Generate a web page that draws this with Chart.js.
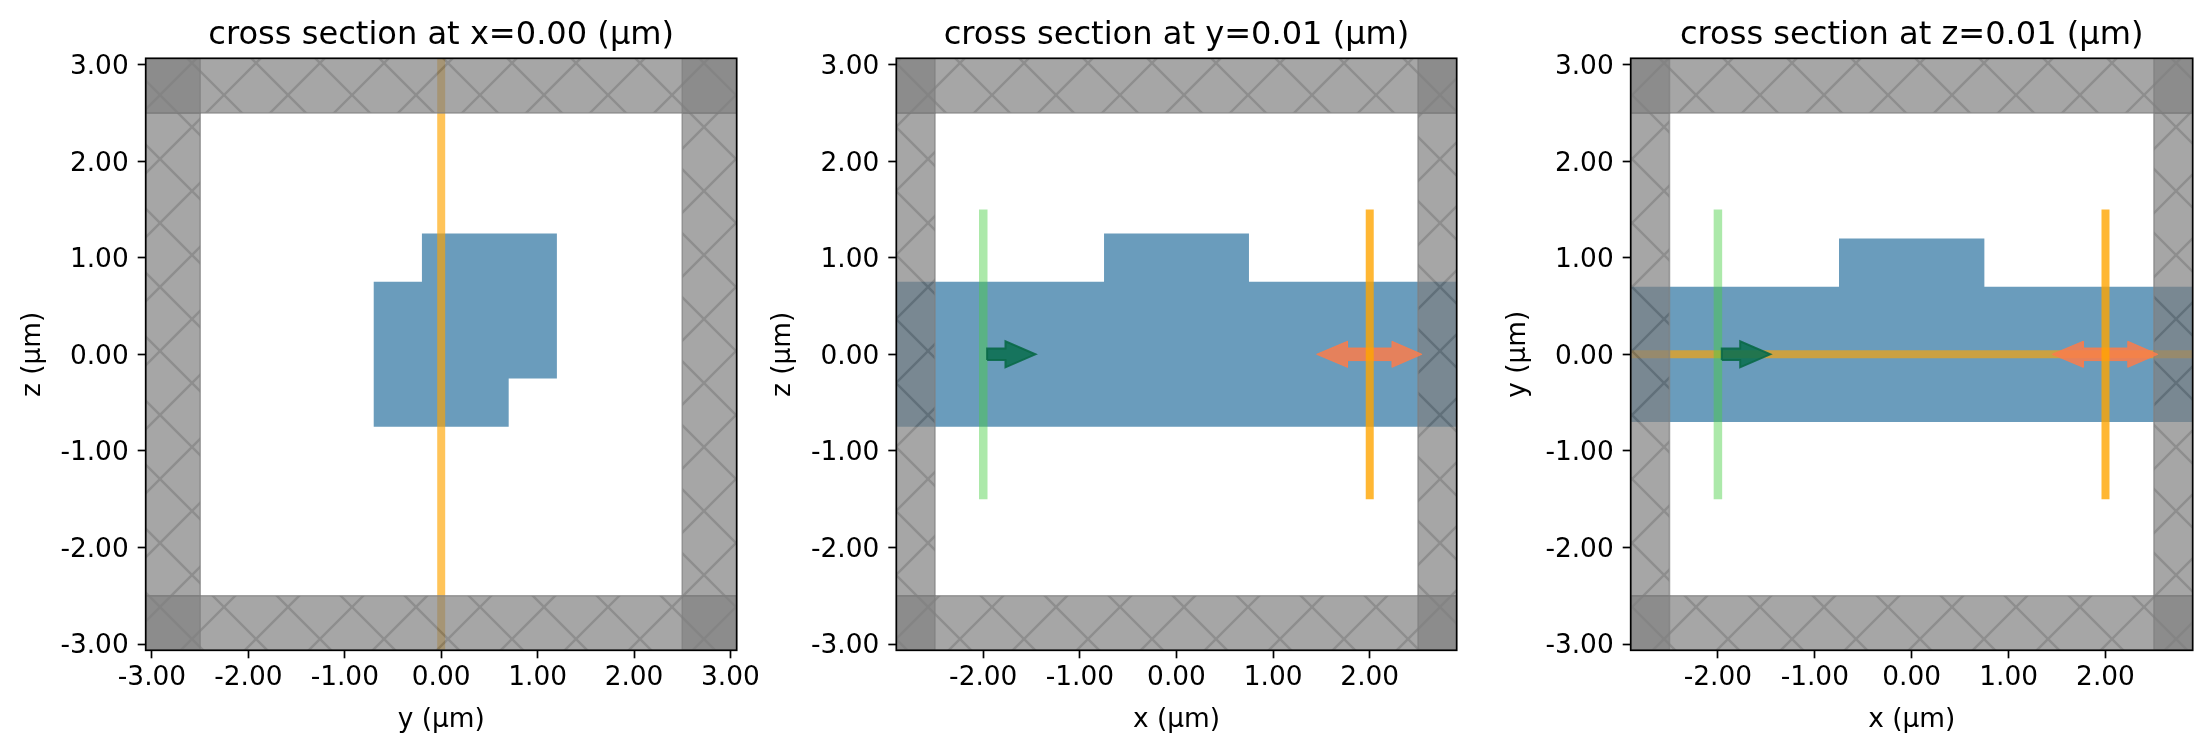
<!DOCTYPE html>
<html><head><meta charset="utf-8">
<script src="https://cdn.jsdelivr.net/npm/chart.js@4/dist/chart.umd.js"></script>
<style>html,body{margin:0;padding:0;background:#fff;width:2210px;height:753px;overflow:hidden}
canvas{position:absolute;top:0}</style></head>
<body>
<canvas id="p1"></canvas><canvas id="p2"></canvas><canvas id="p3"></canvas>
<script>
const titles = ["cross section at x=0.00 (µm)", "cross section at y=0.01 (µm)", "cross section at z=0.01 (µm)"];
const xLabels = ["y (µm)", "x (µm)", "x (µm)"];
const yLabels = ["z (µm)", "z (µm)", "y (µm)"];
const ticksWide = [-3, -2, -1, 0, 1, 2, 3];
const ticksNarrow = [-2, -1, 0, 1, 2];
const limWide = 3.065;
const limNarrow = 2.9;
const pmlEdge = 2.5;

const structP1 = [[-0.7,-0.75],[-0.7,0.75],[-0.2,0.75],[-0.2,1.25],[1.2,1.25],[1.2,-0.25],[0.7,-0.25],[0.7,-0.75],[-0.7,-0.75]];
const structP2 = [[-2.9,-0.75],[-2.9,0.75],[-0.75,0.75],[-0.75,1.25],[0.75,1.25],[0.75,0.75],[2.9,0.75],[2.9,-0.75],[-2.9,-0.75]];
const structP3 = [[-2.9,-0.7],[-2.9,0.7],[-0.75,0.7],[-0.75,1.2],[0.75,1.2],[0.75,0.7],[2.9,0.7],[2.9,-0.7],[-2.9,-0.7]];

const monitorV1 = [[0,-3.065],[0,3.065]];
const monitorH3 = [[-2.9,0],[2.9,0]];
const sourceLine = [[-2,-1.5],[-2,1.5]];
const fluxLine = [[2,-1.5],[2,1.5]];
const sourceArrow = [[-1.96,-0.06],[-1.77,-0.06],[-1.77,-0.135],[-1.46,0],[-1.77,0.135],[-1.77,0.06],[-1.96,0.06],[-1.96,-0.06]];
const fluxArrow = [[1.45,0],[1.77,0.135],[1.77,0.065],[2.23,0.065],[2.23,0.135],[2.54,0],[2.23,-0.135],[2.23,-0.065],[1.77,-0.065],[1.77,-0.135],[1.45,0]];

const BLUE = '#6a9cbc';
const frames = [
  {id:'p1', left:0,   width:790, axL:145.7, axR:736.7},
  {id:'p2', left:750, width:740, axL:896.3, axR:1456.7},
  {id:'p3', left:1485,width:725, axL:1630.7,axR:2192.7}
];
const AX_TOP = 58.3, AX_BOTTOM = 650.3, H = 753;
const HATCH = 64, PHASE_X = 160, PHASE_Y = 95;

Chart.defaults.font.family = "'DejaVu Sans'";
Chart.defaults.color = '#000';
Chart.defaults.animation = false;

function hatchPattern(ctx, canvasLeft) {
  const s = HATCH * 2;
  const a = document.createElement('canvas'); a.width = s; a.height = s;
  const c = a.getContext('2d');
  c.fillStyle = 'rgb(128,128,128)'; c.fillRect(0,0,s,s);
  c.strokeStyle = 'rgb(94,94,94)'; c.lineWidth = 2.4;
  c.beginPath();
  for (let k = -2; k <= 2; k++) {
    c.moveTo(k*HATCH, 0); c.lineTo(k*HATCH + s, s);
    c.moveTo(k*HATCH, s); c.lineTo(k*HATCH + s, 0);
  }
  c.stroke();
  const b = document.createElement('canvas'); b.width = s; b.height = s;
  const d = b.getContext('2d'); d.globalAlpha = 0.7; d.drawImage(a,0,0);
  const p = ctx.createPattern(b,'repeat');
  p.setTransform(new DOMMatrix().translate(PHASE_X - canvasLeft, PHASE_Y));
  return p;
}
const pts = a => a.map(([x,y]) => ({x,y}));
const rect = (x0,x1,y0,y1) => pts([[x0,y0],[x0,y1],[x1,y1],[x1,y0],[x0,y0]]);
const poly = (data, fillColor, edge, w) => ({data: Array.isArray(data[0]) ? pts(data) : data, showLine:true, fill:'shape',
  backgroundColor:fillColor, borderColor:edge||'rgba(0,0,0,0)', borderWidth:w||0, pointRadius:0, tension:0, borderJoinStyle:'miter'});
const strip = (data, color, w) => ({data:pts(data), showLine:true, fill:false, borderColor:color, borderWidth:w, pointRadius:0, tension:0, borderCapStyle:'butt'});

const framePlugin = {id:'frame', afterDatasetsDraw(ch){
  const {ctx, chartArea:a} = ch;
  ctx.save(); ctx.strokeStyle='#000'; ctx.lineWidth=1.7;
  ctx.strokeRect(a.left,a.top,a.right-a.left,a.bottom-a.top); ctx.restore();
}};

function build(i, xLim, xTicks, layers) {
  const f = frames[i], el = document.getElementById(f.id);
  el.width = f.width; el.height = H; el.style.left = f.left+'px';
  el.style.width = f.width+'px'; el.style.height = H+'px';
  const ctx = el.getContext('2d');
  const hatch = hatchPattern(ctx, f.left);
  const EDGE = 'rgba(128,128,128,0.7)';
  const PLAIN = 'rgba(128,128,128,0.7)';
  const pml = [
    rect(-xLim,xLim,pmlEdge,limWide), rect(-xLim,xLim,-limWide,-pmlEdge),
    rect(-xLim,-pmlEdge,-pmlEdge,pmlEdge), rect(pmlEdge,xLim,-pmlEdge,pmlEdge)
  ].map(r => poly(r, hatch, EDGE, 1.6));
  const corners = [
    rect(-xLim,-pmlEdge,pmlEdge,limWide), rect(pmlEdge,xLim,pmlEdge,limWide),
    rect(-xLim,-pmlEdge,-limWide,-pmlEdge), rect(pmlEdge,xLim,-limWide,-pmlEdge)
  ].map(r => poly(r, PLAIN, EDGE, 1.6));
  const all = [layers.under, pml, corners, layers.over].flat();
  all.forEach((d,k) => { d.order = all.length - k; d.clip = 0; });
  const commonTicks = {color:'#000', font:{size:26.4}, maxRotation:0, minRotation:0, autoSkip:false,
    includeBounds:false, callback:v => v.toFixed(2)};
  const grid = {display:true, drawOnChartArea:false, drawTicks:true, tickLength:8, tickWidth:1.7, tickColor:'#000'};
  new Chart(ctx, {
    type:'scatter',
    data:{datasets:all},
    plugins:[framePlugin],
    options:{
      responsive:false, devicePixelRatio:1, animation:false,
      layout:{padding:{top:0,left:0,bottom:0,right:f.left+f.width-f.axR}},
      plugins:{
        legend:{display:false}, tooltip:{enabled:false},
        title:{display:true, text:titles[i], fullSize:false, color:'#000', position:'top',
          font:{size:32.1, weight:'normal', lineHeight:1.2}, padding:{top:16.5, bottom:AX_TOP-38.52-16.5}}
      },
      scales:{
        x:{type:'linear', min:-xLim, max:xLim, grid, border:{display:false},
          ticks:{...commonTicks, padding:4.5},
          afterBuildTicks:s => { s.ticks = xTicks.map(value => ({value})); },
          afterFit:s => { s.height = H - AX_BOTTOM; },
          title:{display:true, text:xLabels[i], color:'#000', font:{size:26.4, lineHeight:1.2}, padding:{top:0,bottom:17}}},
        y:{type:'linear', min:-limWide, max:limWide, grid, border:{display:false},
          ticks:{...commonTicks, padding:9, labelOffset:2.5},
          afterBuildTicks:s => { s.ticks = ticksWide.map(value => ({value})); },
          afterFit:s => { s.width = f.axL - f.left; },
          title:{display:true, text:yLabels[i], color:'#000', font:{size:26.4, lineHeight:1.2}, padding:{top:17,bottom:0}}}
      }
    }
  });
}

const GREEN_ST = 'rgba(71,206,66,0.45)';
const ORANGE_SOFT = 'rgba(255,165,0,0.65)';
const ORANGE_FIRM = 'rgba(255,165,0,0.8)';
const ARROW_G = 'rgba(10,110,80,0.88)', ARROW_GE = 'rgba(10,105,72,0.9)';
const ARROW_O = 'rgba(250,125,75,0.85)';

build(0, limWide, ticksWide, {under:[poly(structP1,BLUE), strip(monitorV1,ORANGE_SOFT,8)], over:[]});
build(1, limNarrow, ticksNarrow, {under:[poly(structP2,BLUE)], over:[
  strip(sourceLine,GREEN_ST,8.5), poly(sourceArrow,ARROW_G,ARROW_GE,2), poly(fluxArrow,ARROW_O,ARROW_O,1), strip(fluxLine,ORANGE_FIRM,8)]});
build(2, limNarrow, ticksNarrow, {under:[poly(structP3,BLUE), strip(monitorH3,ORANGE_SOFT,8)], over:[
  strip(sourceLine,GREEN_ST,8.5), poly(sourceArrow,ARROW_G,ARROW_GE,2), poly(fluxArrow,ARROW_O,ARROW_O,1), strip(fluxLine,ORANGE_FIRM,8)]});
</script>
</body></html>
